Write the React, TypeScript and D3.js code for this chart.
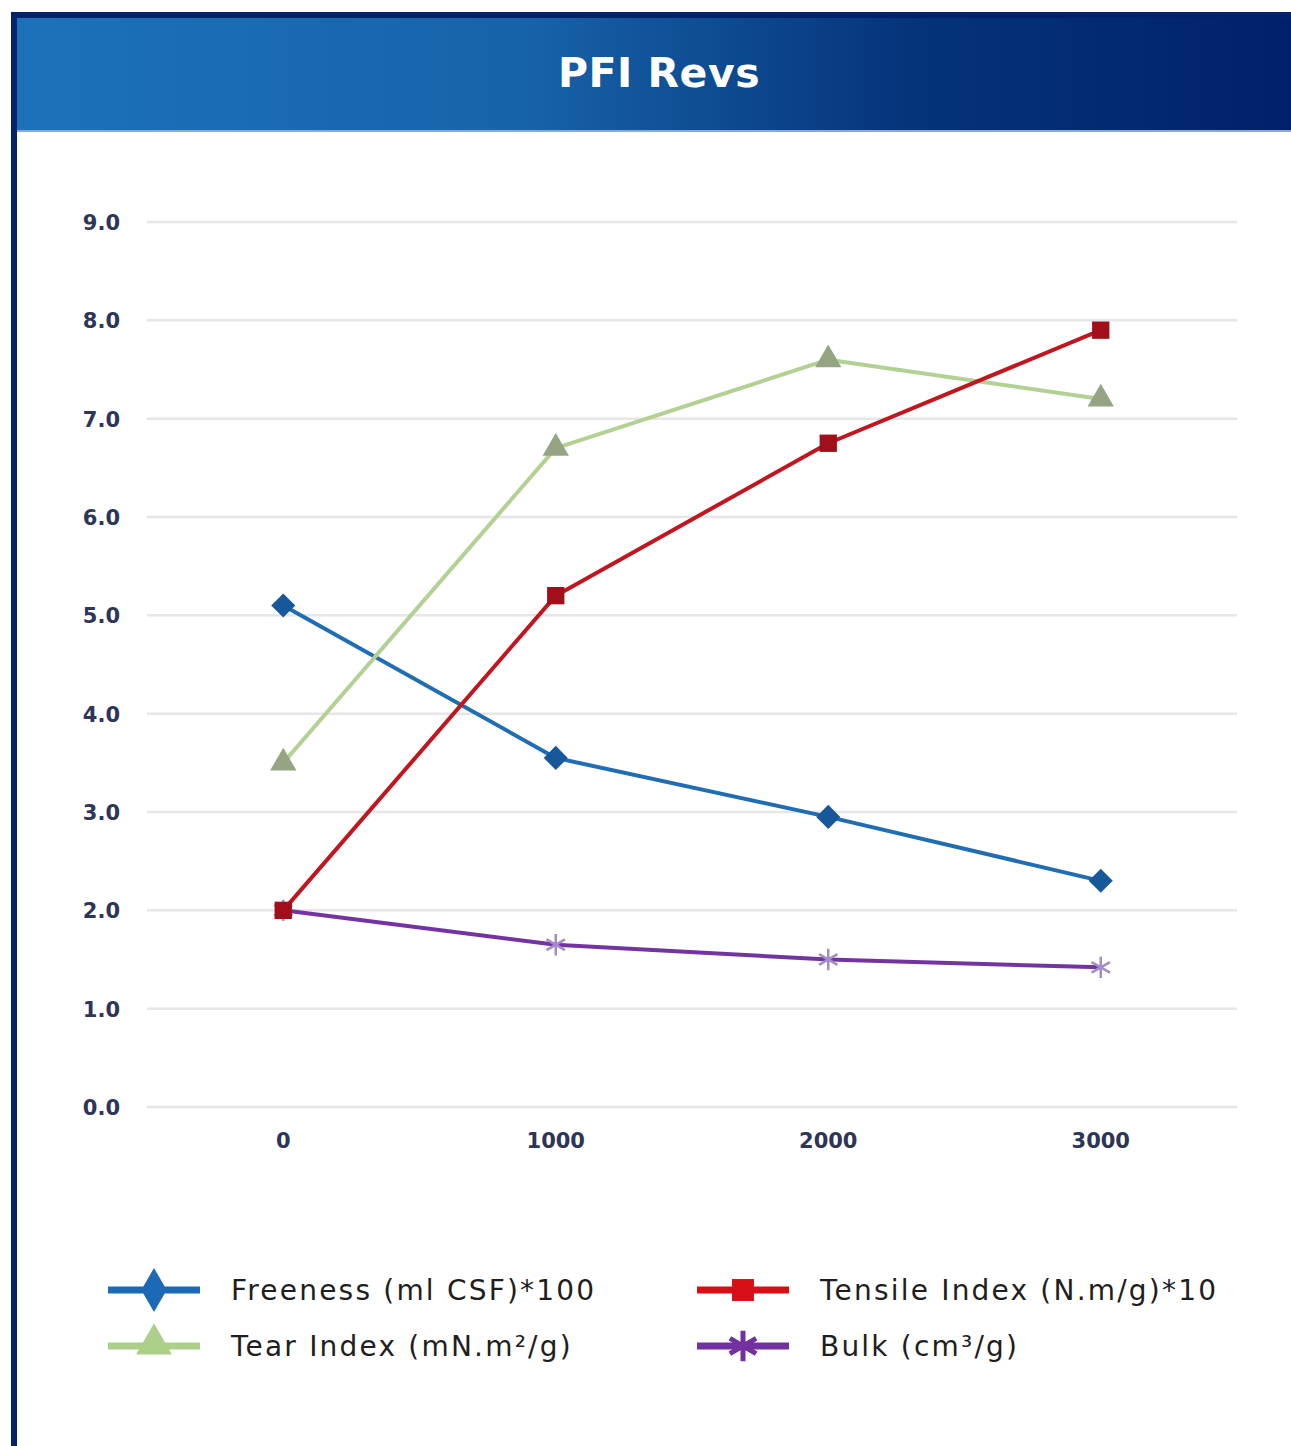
import React, { useEffect, useRef } from "react";
import * as d3 from "d3";

const categories = ["0", "1000", "2000", "3000"];
const yTicks = [0, 1, 2, 3, 4, 5, 6, 7, 8, 9];
const freeness = [5.1, 3.55, 2.95, 2.3];
const tensile = [2.0, 5.2, 6.75, 7.9];
const tear = [3.5, 6.7, 7.6, 7.2];
const bulk = [2.0, 1.65, 1.5, 1.42];
const seriesNames = [
  "Freeness (ml CSF)*100",
  "Tensile Index (N.m/g)*10",
  "Tear Index (mN.m²/g)",
  "Bulk (cm³/g)",
];

const W = 1291;
const H = 1446;

type Series = {
  name: string;
  values: number[];
  line: string;
  marker: string;
  legendColor: string;
  symbol: "diamond" | "square" | "triangle" | "asterisk";
};

const series: Series[] = [
  { name: seriesNames[0], values: freeness, line: "#1f6db3", marker: "#17589a", legendColor: "#1c6ab5", symbol: "diamond" },
  { name: seriesNames[1], values: tensile, line: "#c1161f", marker: "#a20f1a", legendColor: "#d80e16", symbol: "square" },
  { name: seriesNames[2], values: tear, line: "#b3d192", marker: "#95a584", legendColor: "#acd08a", symbol: "triangle" },
  { name: seriesNames[3], values: bulk, line: "#7433a3", marker: "#a48cc4", legendColor: "#7330a0", symbol: "asterisk" },
];

function symbolPath(kind: Series["symbol"], size: number, legend: boolean): string {
  if (kind === "diamond") return d3.symbol(legend ? d3.symbolDiamond : d3.symbolSquare, size)() as string;
  if (kind === "square") return d3.symbol(d3.symbolSquare, size)() as string;
  if (kind === "triangle") return d3.symbol(d3.symbolTriangle, size)() as string;
  return d3.symbol(d3.symbolAsterisk, size)() as string;
}

export default function App() {
  const ref = useRef<SVGSVGElement>(null);

  useEffect(() => {
    document.body.style.margin = "0";
    const svg = d3.select(ref.current);
    svg.selectAll("*").remove();

    const defs = svg.append("defs");
    const grad = defs.append("linearGradient").attr("id", "hdr").attr("x1", "0").attr("x2", "1").attr("y1", "0").attr("y2", "0");
    grad.append("stop").attr("offset", "0").attr("stop-color", "#1c72b9");
    grad.append("stop").attr("offset", "0.4").attr("stop-color", "#1763aa");
    grad.append("stop").attr("offset", "0.7").attr("stop-color", "#05347b");
    grad.append("stop").attr("offset", "1").attr("stop-color", "#00216a");

    svg.append("rect").attr("width", W).attr("height", H).attr("fill", "#ffffff");

    // Header
    svg.append("rect").attr("x", 11).attr("y", 12).attr("width", W - 11).attr("height", 120).attr("fill", "url(#hdr)");
    svg.append("rect").attr("x", 11).attr("y", 12).attr("width", W - 11).attr("height", 6).attr("fill", "#02226b");
    svg.append("rect").attr("x", 17).attr("y", 130).attr("width", W - 17).attr("height", 2).attr("fill", "#8fa8cf");
    // left border
    svg.append("rect").attr("x", 11).attr("y", 12).attr("width", 6).attr("height", H - 12).attr("fill", "#02226b");

    svg.append("text")
      .attr("x", 659).attr("y", 87)
      .attr("text-anchor", "middle")
      .attr("fill", "#ffffff")
      .attr("font-family", "'DejaVu Sans', sans-serif")
      .attr("font-weight", 700)
      .attr("font-size", 41)
      .attr("letter-spacing", 0.5)
      .text("PFI Revs");

    // Scales
    const x = d3.scaleBand<string>().domain(categories).range([147, 1237]);
    const y = d3.scaleLinear().domain([0, 9]).range([1107, 222]);
    const cx = (c: string) => (x(c) as number) + x.bandwidth() / 2;

    // Gridlines
    const g = svg.append("g");
    g.selectAll("line.grid")
      .data(yTicks)
      .enter()
      .append("line")
      .attr("x1", 147).attr("x2", 1237)
      .attr("y1", (d) => y(d)).attr("y2", (d) => y(d))
      .attr("stroke", "#e6e6e6")
      .attr("stroke-width", 2.5);

    // Y labels
    g.selectAll("text.yl")
      .data(yTicks)
      .enter()
      .append("text")
      .attr("x", 120).attr("y", (d) => y(d) + 8)
      .attr("text-anchor", "end")
      .attr("fill", "#2e3558")
      .attr("font-family", "'DejaVu Sans', sans-serif")
      .attr("font-weight", 700)
      .attr("font-size", 21)
      .text((d) => d3.format(".1f")(d));

    // X labels
    g.selectAll("text.xl")
      .data(categories)
      .enter()
      .append("text")
      .attr("x", (d) => cx(d)).attr("y", 1148)
      .attr("text-anchor", "middle")
      .attr("fill", "#2e3558")
      .attr("font-family", "'DejaVu Sans', sans-serif")
      .attr("font-weight", 700)
      .attr("font-size", 21)
      .text((d) => d);

    const drawOrder = [series[3], series[0], series[2], series[1]];
    const chartSizes: Record<string, number> = { diamond: 290, square: 300, triangle: 300, asterisk: 320 };
    drawOrder.forEach((s) => {
      const line = d3.line<number>().x((_, i) => cx(categories[i])).y((d) => y(d));
      g.append("path")
        .attr("d", line(s.values) as string)
        .attr("fill", "none")
        .attr("stroke", s.line)
        .attr("stroke-width", 4)
        .attr("stroke-linejoin", "round");
      s.values.forEach((v, i) => {
        const rot = s.symbol === "diamond" ? " rotate(45)" : "";
        const p = g.append("path")
          .attr("d", symbolPath(s.symbol, chartSizes[s.symbol], false))
          .attr("transform", `translate(${cx(categories[i])},${y(v)})${rot}`);
        if (s.symbol === "asterisk") {
          p.attr("fill", "none").attr("stroke", s.marker).attr("stroke-width", 2.5);
        } else {
          p.attr("fill", s.marker);
        }
      });
    });

    // Legend
    const legendPos = [
      { lx: 108, ly: 1290 },
      { lx: 697, ly: 1290 },
      { lx: 108, ly: 1346 },
      { lx: 697, ly: 1346 },
    ];
    const legendSizes: Record<string, number> = { diamond: 560, square: 480, triangle: 560, asterisk: 650 };
    series.forEach((s, i) => {
      const { lx, ly } = legendPos[i];
      const lg = svg.append("g");
      lg.append("line")
        .attr("x1", lx).attr("x2", lx + 92)
        .attr("y1", ly).attr("y2", ly)
        .attr("stroke", s.legendColor)
        .attr("stroke-width", 7);
      const m = lg.append("path")
        .attr("d", symbolPath(s.symbol, legendSizes[s.symbol], true))
        .attr("transform", `translate(${lx + 46},${ly + (s.symbol === "triangle" ? -2 : 0)})`);
      if (s.symbol === "asterisk") {
        m.attr("fill", "none").attr("stroke", s.legendColor).attr("stroke-width", 5);
      } else {
        m.attr("fill", s.legendColor);
      }
      lg.append("text")
        .attr("x", lx + 123).attr("y", ly + 10)
        .attr("fill", "#1e1e1e")
        .attr("font-family", "'DejaVu Sans', sans-serif")
        .attr("font-size", 28)
        .attr("letter-spacing", 2.2)
        .text(s.name);
    });
  }, []);

  return (
    <div style={{ position: "absolute", left: 0, top: 0 }}>
      <svg ref={ref} width={W} height={H} style={{ display: "block" }} />
    </div>
  );
}
